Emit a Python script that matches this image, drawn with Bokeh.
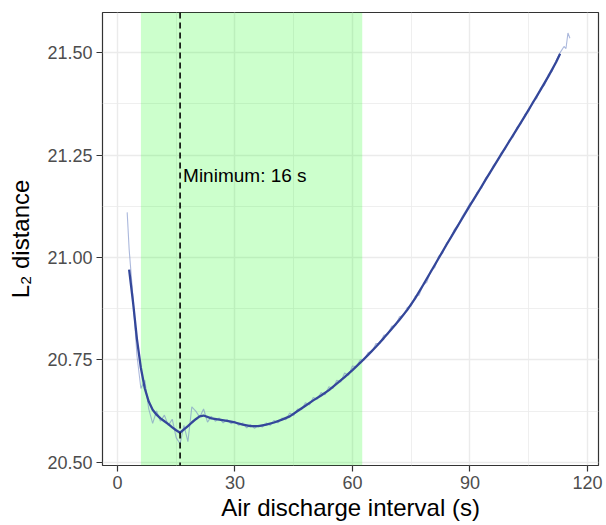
from bokeh.plotting import figure
from bokeh.models import (Range1d, FixedTicker, PrintfTickFormatter, BoxAnnotation,
                          Span, Label)
from bokeh.embed import file_html
from bokeh.resources import INLINE

# ---- data ----
raw_x = [2.5] + list(range(3, 115)) + [114.5, 115, 115.5]
raw_y = [21.11, 21.02, 20.90, 20.76, 20.68, 20.70, 20.63, 20.595, 20.625, 20.600,
         20.615, 20.590, 20.605, 20.560, 20.545, 20.590, 20.550, 20.635, 20.625, 20.610,
         20.630, 20.598, 20.612, 20.600, 20.608, 20.596, 20.604, 20.594, 20.600, 20.590,
         20.596, 20.584, 20.592, 20.583, 20.590, 20.586, 20.596, 20.590, 20.602, 20.596,
         20.608, 20.604, 20.620, 20.614, 20.630, 20.628, 20.645, 20.640, 20.658, 20.654,
         20.670, 20.665, 20.684, 20.680, 20.700, 20.696, 20.718, 20.712, 20.735, 20.733,
         20.750, 20.750, 20.768, 20.770, 20.790, 20.790, 20.810, 20.812, 20.832, 20.834,
         20.855, 20.858, 20.878, 20.882, 20.905, 20.908, 20.932, 20.940, 20.968, 20.975,
         21.003, 21.010, 21.035, 21.045, 21.068, 21.080, 21.100, 21.115, 21.132, 21.140,
         21.162, 21.170, 21.194, 21.203, 21.225, 21.235, 21.256, 21.264, 21.287, 21.294,
         21.318, 21.326, 21.349, 21.357, 21.381, 21.388, 21.413, 21.420, 21.446, 21.455,
         21.481, 21.500, 21.515, 21.510, 21.548, 21.535]

smooth_x = [3, 4, 5, 6, 7, 8, 9, 10, 11, 12, 13, 14, 15, 16, 17, 18, 19, 20, 21, 22,
            24, 26, 28, 30, 32, 34, 36, 38, 40, 42, 44, 46, 48, 50, 52, 54, 56, 58, 60,
            62, 64, 66, 68, 70, 72, 74, 76, 78, 80, 82, 84, 86, 88, 90, 92, 94, 96, 98,
            100, 102, 104, 106, 108, 110, 112, 113]
smooth_y = [20.97, 20.89, 20.80, 20.73, 20.68, 20.648, 20.628, 20.616, 20.607, 20.600,
            20.593, 20.585, 20.578, 20.572, 20.580, 20.588, 20.597, 20.605, 20.612, 20.614,
            20.607, 20.604, 20.601, 20.597, 20.592, 20.588, 20.588, 20.592, 20.597, 20.604,
            20.612, 20.625, 20.638, 20.651, 20.663, 20.676, 20.692, 20.708, 20.725, 20.743,
            20.762, 20.782, 20.803, 20.825, 20.848, 20.872, 20.900, 20.932, 20.965, 20.998,
            21.031, 21.063, 21.095, 21.127, 21.158, 21.190, 21.221, 21.252, 21.283, 21.314,
            21.345, 21.377, 21.409, 21.442, 21.477, 21.497]

shade_start = 6
shade_end = 62.5
min_x = 16
label_y = 21.2
label_text = "Minimum: 16 s"

x_ticks = [0, 30, 60, 90, 120]
x_minor = [15, 45, 75, 105]
y_ticks = [20.5, 20.75, 21.0, 21.25, 21.5]
y_minor = [20.625, 20.875, 21.125, 21.375]

FONT = "Liberation Sans"

p = figure(width=606, height=525, output_backend="svg", toolbar_location=None,
           x_range=Range1d(-3.8, 122.8), y_range=Range1d(20.492, 21.598),
           min_border_left=102, min_border_right=8, min_border_top=12, min_border_bottom=60)
p.background_fill_color = "white"
p.border_fill_color = "white"
p.outline_line_color = "#333333"
p.outline_line_width = 1.2

# shaded region
p.add_layout(BoxAnnotation(left=shade_start, right=shade_end, fill_color="#00ff00",
                           fill_alpha=0.2, line_color=None, level="underlay"))

# lines
p.line(raw_x, raw_y, line_color="#7388c4", line_alpha=0.6, line_width=1.1)
p.line(smooth_x, smooth_y, line_color="#34479a", line_width=2.3)

# minimum marker
p.add_layout(Span(location=min_x, dimension="height", line_color="black",
                  line_dash="6 4", line_width=1.6))
p.add_layout(Label(x=min_x, y=label_y, text=label_text, x_offset=3,
                   text_baseline="middle", text_align="left",
                   text_font=FONT, text_font_size="19px", text_color="black"))

# axes / grid
p.xaxis.ticker = FixedTicker(ticks=x_ticks, minor_ticks=x_minor)
p.yaxis.ticker = FixedTicker(ticks=y_ticks, minor_ticks=y_minor)
p.yaxis.formatter = PrintfTickFormatter(format="%.2f")
p.xaxis.axis_label = "Air discharge interval (s)"
p.yaxis.axis_label = "L\u2082 distance"

for ax in (p.xaxis, p.yaxis):
    ax.axis_line_color = None
    ax.major_tick_line_color = "#333333"
    ax.major_tick_line_width = 1.2
    ax.major_tick_out = 6
    ax.major_tick_in = 0
    ax.minor_tick_out = 0
    ax.minor_tick_in = 0
    ax.major_label_text_font = FONT
    ax.major_label_text_font_size = "18px"
    ax.major_label_text_color = "#4d4d4d"
    ax.axis_label_text_font = FONT
    ax.axis_label_text_font_size = "24px"
    ax.axis_label_text_font_style = "normal"
    ax.axis_label_text_color = "black"

p.xaxis.major_label_standoff = 4
p.xaxis.axis_label_standoff = 2
p.yaxis.major_label_standoff = 4
p.yaxis.axis_label_standoff = 10

for g in (p.xgrid, p.ygrid):
    g.grid_line_color = "#ebebeb"
    g.grid_line_width = 1.4
    g.minor_grid_line_color = "#ebebeb"
    g.minor_grid_line_width = 0.8

open("out.html", "w").write(file_html(p, INLINE))
